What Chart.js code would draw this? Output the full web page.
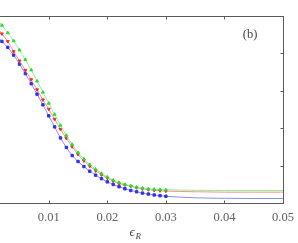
<!DOCTYPE html>
<html>
<head>
<meta charset="utf-8">
<script src="https://cdn.jsdelivr.net/npm/chart.js@4"></script>
<style>
  html, body { margin: 0; padding: 0; background: #fff; }
  #wrap { width: 298px; height: 243px; position: relative; }
</style>
</head>
<body>
<div id="wrap"><canvas id="myChart"></canvas></div>
<script>
// eps_R values (markers stop at 0.03, the fit lines go on to 0.05)
const epsR = [0.001, 0.002, 0.003, 0.004, 0.005, 0.006, 0.007, 0.008, 0.009, 0.010,
              0.011, 0.012, 0.013, 0.014, 0.015, 0.016, 0.017, 0.018, 0.019, 0.020,
              0.021, 0.022, 0.023, 0.024, 0.025, 0.026, 0.027, 0.028, 0.029, 0.030,
              0.035, 0.040, 0.045, 0.050];

const greenValues = [0.988, 0.950, 0.910, 0.867, 0.818, 0.767, 0.711, 0.652, 0.592, 0.533,
                     0.474, 0.415, 0.361, 0.313, 0.270, 0.235, 0.205, 0.180, 0.158, 0.138,
                     0.122, 0.109, 0.099, 0.091, 0.084, 0.079, 0.075, 0.073, 0.071, 0.070,
                     0.068, 0.067, 0.067, 0.067];

const redValues = [0.944, 0.905, 0.864, 0.810, 0.760, 0.710, 0.660, 0.606, 0.552, 0.502,
                   0.448, 0.394, 0.346, 0.301, 0.260, 0.226, 0.197, 0.172, 0.151, 0.133,
                   0.117, 0.104, 0.097, 0.090, 0.082, 0.076, 0.072, 0.068, 0.066, 0.064,
                   0.060, 0.058, 0.058, 0.058];

const blueValues = [0.896, 0.864, 0.832, 0.791, 0.743, 0.692, 0.638, 0.582, 0.525, 0.466,
                    0.407, 0.348, 0.297, 0.254, 0.222, 0.195, 0.170, 0.149, 0.130, 0.113,
                    0.099, 0.087, 0.076, 0.067, 0.060, 0.053, 0.048, 0.043, 0.039, 0.036,
                    0.028, 0.025, 0.024, 0.024];

const xTicks = [0.01, 0.02, 0.03, 0.04, 0.05];
const xTickLabels = ['0.01', '0.02', '0.03', '0.04', '0.05'];
const yTicks = [0, 0.2, 0.4, 0.6, 0.8, 1];

const serif = '"Liberation Serif", "DejaVu Serif", serif';
const axisColor = '#5a5a5a';

function toPoints(values) {
    return epsR.map((x, i) => ({ x: x, y: values[i] }));
}

// markers only where the data was sampled
function markerRadius(ctx) {
    const x = epsR[ctx.dataIndex];
    return (x >= 0.0015 && x <= 0.0305) ? 1.7 : 0;
}

function series(values, lineColor, markColor, style, rotation) {
    return {
        data: toPoints(values),
        borderColor: lineColor,
        borderWidth: 1,
        tension: 0.4,
        cubicInterpolationMode: 'monotone',
        pointRadius: markerRadius,
        pointStyle: style,
        pointRotation: rotation,
        pointBackgroundColor: markColor,
        pointBorderColor: markColor,
        pointBorderWidth: 1
    };
}

// frame, inward ticks, tick labels, axis title and panel tag
const framePlugin = {
    id: 'frame',
    afterDraw(chart) {
        const ctx = chart.ctx;
        const a = chart.chartArea;
        const xs = chart.scales.x;
        const ys = chart.scales.y;
        const L = Math.round(a.left) - 5.5;
        const R = Math.round(a.right) + 0.5;
        const T = Math.round(a.top) + 0.5;
        const B = Math.round(a.bottom) + 0.5;
        ctx.save();
        ctx.strokeStyle = axisColor;
        ctx.lineWidth = 1;
        ctx.strokeRect(L, T, R - L, B - T);
        ctx.beginPath();
        xTicks.forEach(v => {
            const px = Math.round(xs.getPixelForValue(v)) + 0.5;
            ctx.moveTo(px, B); ctx.lineTo(px, B - 3);
            ctx.moveTo(px, T); ctx.lineTo(px, T + 3);
        });
        yTicks.forEach(v => {
            const py = Math.round(ys.getPixelForValue(v)) + 0.5;
            ctx.moveTo(R, py); ctx.lineTo(R - 3, py);
        });
        ctx.stroke();

        ctx.fillStyle = '#606060';
        ctx.font = '12.5px ' + serif;
        ctx.textAlign = 'center';
        ctx.textBaseline = 'middle';
        xTicks.forEach((v, i) => {
            ctx.fillText(xTickLabels[i], xs.getPixelForValue(v), B + 14);
        });

        // axis title: epsilon_R
        ctx.fillStyle = '#444';
        ctx.textAlign = 'left';
        ctx.textBaseline = 'alphabetic';
        ctx.font = 'italic 13px ' + serif;
        ctx.fillText('\u03F5', 129.5, 236);
        ctx.font = 'italic 9px ' + serif;
        ctx.fillText('R', 135.5, 238.5);

        ctx.font = '12.5px ' + serif;
        ctx.textAlign = 'center';
        ctx.textBaseline = 'middle';
        ctx.fillText('(b)', 250, 35);
        ctx.restore();
    }
};

const myChart = new Chart(document.getElementById('myChart'), {
    type: 'line',
    data: {
        datasets: [
            series(greenValues, '#8cf08c', '#2ed82e', 'triangle', 0),
            series(redValues, '#f59090', '#ee3030', 'triangle', 180),
            series(blueValues, '#8c8cf5', '#3030ee', 'rect', 0)
        ]
    },
    options: {
        responsive: true,
        maintainAspectRatio: false,
        animation: false,
        layout: { padding: { left: 0, right: 15, top: 16, bottom: 40 } },
        plugins: {
            legend: { display: false },
            tooltip: { enabled: false }
        },
        scales: {
            x: {
                type: 'linear',
                display: false,
                min: 0.00167,
                max: 0.05
            },
            y: {
                display: false,
                min: 0,
                max: 1
            }
        }
    },
    plugins: [framePlugin]
});
</script>
</body>
</html>
